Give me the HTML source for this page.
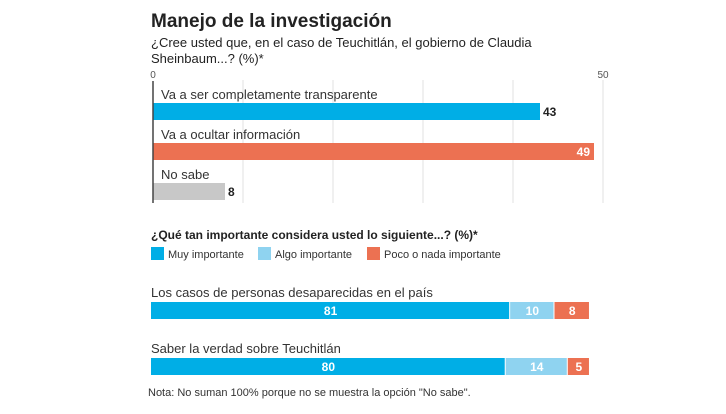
<!DOCTYPE html>
<html><head><meta charset="utf-8"><style>
body{margin:0;width:726px;height:409px;background:#fff;overflow:hidden;font-family:"Liberation Sans",sans-serif;color:#222}
</style></head><body>
<svg width="726" height="409" id="svg" font-family="Liberation Sans, sans-serif">
<text x="151" y="27" font-size="19" font-weight="bold" fill="#222">Manejo de la investigación</text>
<text x="151" y="47" font-size="13" fill="#222">¿Cree usted que, en el caso de Teuchitlán, el gobierno de Claudia</text>
<text x="151" y="63" font-size="13" fill="#222">Sheinbaum...?  (%)*</text>
<g id="c1"></g>
<text x="151" y="239" font-size="12" font-weight="bold" fill="#222">¿Qué tan importante considera usted lo siguiente...? (%)*</text>
<g id="legend"></g>
<g id="c2"></g>
<text x="148" y="396" font-size="11" fill="#333">Nota: No suman 100% porque no se muestra la opción "No sabe".</text>
</svg>
<script>
const cats1=["Va a ser completamente transparente","Va a ocultar información","No sabe"];
const vals1=[43,49,8];
const cols1=["#00AEE6","#EC7152","#C8C8C8"];
const ticks1=[0,10,20,30,40,50];
const tickLabels1=["0","","","","","50"];
const cats2=["Los casos de personas desaparecidas en el país","Saber la verdad sobre Teuchitlán"];
const muy=[81,80];
const algo=[10,14];
const poco=[8,5];
const legendLabels=["Muy importante","Algo importante","Poco o nada importante"];
const cols2=["#00AEE6","#8FD3F0","#EC7152"];
const NS="http://www.w3.org/2000/svg";
function mk(p,t,a,txt){const e=document.createElementNS(NS,t);for(const k in a)e.setAttribute(k,a[k]);if(txt!==undefined)e.textContent=txt;p.appendChild(e);return e;}
const x1=v=>153+v*9;
const c1=document.getElementById('c1');
ticks1.forEach((t,i)=>{
 if(t>0){const l=mk(c1,'line',{x1:x1(t),x2:x1(t),y1:80,y2:203,stroke:'#e2e2e2','stroke-width':1});
 
 }
 if(tickLabels1[i]){const tx=mk(c1,'text',{x:x1(t),y:78,'font-size':10,fill:'#555','text-anchor':'middle'},tickLabels1[i]);
 
 }
});
cats1.forEach((c,i)=>{
 const y=103+i*40;
 const lb=mk(c1,'text',{x:161,y:y-4,'font-size':13,fill:'#333'},c);
 
 
 const r=mk(c1,'rect',{x:x1(0),y:y,width:x1(vals1[i])-x1(0),height:17,fill:cols1[i]});
 
 
 const inside=vals1[i]>=45;
 const v=mk(c1,'text',{x:inside?x1(vals1[i])-4:x1(vals1[i])+3,y:y+13,'font-size':12,'font-weight':'bold',fill:inside?'#fff':'#222','text-anchor':inside?'end':'start'},vals1[i]);
 
 
});
const ax=mk(c1,'line',{x1:153,x2:153,y1:81,y2:203,stroke:'#444','stroke-width':1.5});


const lg=document.getElementById('legend');
const lx=[151,258,367];
legendLabels.forEach((l,i)=>{
 const r=mk(lg,'rect',{x:lx[i],y:247,width:13,height:13,fill:cols2[i]});
 
 
 const t=mk(lg,'text',{x:lx[i]+17,y:258,'font-size':11,fill:'#333'},l);
 
 
});
const c2=document.getElementById('c2');
const k=4.434, x0=151;
cats2.forEach((c,i)=>{
 const y=302+i*56;
 const lb=mk(c2,'text',{x:151,y:y-5,'font-size':13,fill:'#333'},c);
 
 
 const segs=[muy[i],algo[i],poco[i]];
 let s=0;
 segs.forEach((v,j)=>{
  const xa=x0+s*k, w=v*k;
  const r=mk(c2,'rect',{x:xa,y:y,width:w-1,height:17,fill:cols2[j]});
  
  
  const t=mk(c2,'text',{x:xa+w/2,y:y+13,'font-size':12,'font-weight':'bold',fill:'#fff','text-anchor':'middle'},v);
  
  
  s+=v;
 });
});
</script>
</body></html>
